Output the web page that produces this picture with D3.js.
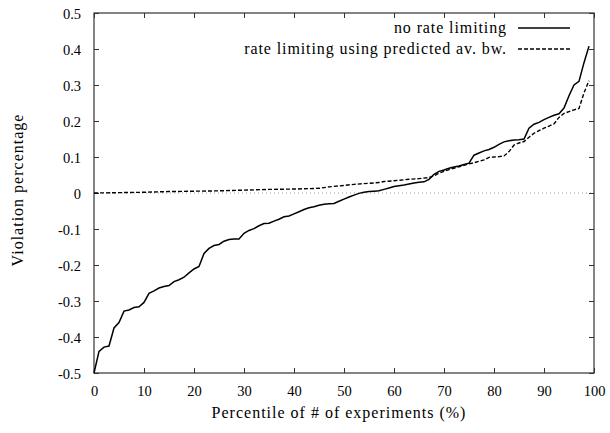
<!DOCTYPE html>
<html><head><meta charset="utf-8">
<script src="https://cdn.jsdelivr.net/npm/d3@7"></script>
<style>body{margin:0;background:#fff}svg{display:block}</style>
</head><body><svg id="c" width="610" height="433"></svg>
<script>
const xTicks = [0,10,20,30,40,50,60,70,80,90,100];
const yTicks = [-0.5,-0.4,-0.3,-0.2,-0.1,0,0.1,0.2,0.3,0.4,0.5];
const yTickLabels = ["-0.5","-0.4","-0.3","-0.2","-0.1","0","0.1","0.2","0.3","0.4","0.5"];
const seriesNames = ["no rate limiting","rate limiting using predicted av. bw."];
const noLimitP = [0,1,2,3,4,5,6,7,8,9,10,11,12,13,14,15,16,17,18,19,20,21,22,23,24,25,26,27,28,29,30,31,32,33,34,35,36,37,38,39,40,41,42,43,44,45,46,47,48,49,50,51,52,53,54,55,56,57,58,59,60,61,62,63,64,65,66,67,68,69,70,71,72,73,74,75,76,77,78,79,80,81,82,83,84,85,86,87,88,89,90,91,92,93,94,95,96,97,98,99];
const noLimitV = [-0.50,-0.44,-0.428,-0.425,-0.375,-0.36,-0.328,-0.325,-0.318,-0.316,-0.304,-0.279,-0.272,-0.264,-0.260,-0.257,-0.246,-0.241,-0.234,-0.222,-0.211,-0.204,-0.168,-0.154,-0.146,-0.143,-0.134,-0.129,-0.128,-0.128,-0.112,-0.104,-0.099,-0.091,-0.085,-0.084,-0.078,-0.073,-0.066,-0.064,-0.058,-0.052,-0.046,-0.041,-0.038,-0.034,-0.031,-0.030,-0.029,-0.023,-0.017,-0.011,-0.006,-0.001,0.002,0.004,0.005,0.006,0.010,0.014,0.018,0.020,0.022,0.025,0.028,0.030,0.031,0.038,0.052,0.060,0.064,0.069,0.072,0.075,0.079,0.083,0.105,0.111,0.117,0.121,0.127,0.135,0.142,0.145,0.147,0.148,0.150,0.180,0.191,0.196,0.204,0.210,0.216,0.220,0.236,0.270,0.300,0.310,0.362,0.408];
const limitP = [0,5,10,15,20,25,30,35,40,45,47,50,52,55,57,58,60,63,65,67,68,69,70,71,73,75,76,77,78,79,80,81,82,83,84,85,86,87,88,89,90,91,92,93,94,95,96,97,98,99];
const limitV = [0.000,0.001,0.002,0.004,0.005,0.006,0.008,0.010,0.011,0.013,0.017,0.021,0.024,0.027,0.029,0.032,0.034,0.038,0.040,0.043,0.048,0.055,0.060,0.065,0.073,0.081,0.084,0.088,0.092,0.099,0.100,0.101,0.103,0.115,0.133,0.139,0.143,0.155,0.166,0.173,0.180,0.186,0.192,0.210,0.221,0.226,0.231,0.235,0.278,0.312];

const FONT = '"Liberation Serif", "Times New Roman", "Liberation Sans", sans-serif';
const svg = d3.select("#c");
const L=94,R=594,T=13,B=373;
const x = d3.scaleLinear().domain([0,100]).range([L,R]);
const y = d3.scaleLinear().domain([-0.5,0.5]).range([B,T]);
const axisCol="#333";

svg.append("line").attr("x1",L).attr("x2",R).attr("y1",y(0)).attr("y2",y(0))
  .attr("stroke","#999").attr("stroke-width",1).attr("stroke-dasharray","1,3");

const tk=5;
const gB = svg.append("g").attr("transform",`translate(0,${B})`).call(d3.axisBottom(x).tickValues(xTicks).tickSize(-tk).tickPadding(13));
const gT = svg.append("g").attr("transform",`translate(0,${T})`).call(d3.axisTop(x).tickValues(xTicks).tickSize(-tk).tickFormat(""));
const gL = svg.append("g").attr("transform",`translate(${L},0)`).call(d3.axisLeft(y).tickValues(yTicks).tickSize(-tk).tickPadding(13).tickFormat((d,i)=>yTickLabels[i]));
const gR = svg.append("g").attr("transform",`translate(${R},0)`).call(d3.axisRight(y).tickValues(yTicks).tickSize(-tk).tickFormat(""));
[gB,gT,gL,gR].forEach(g=>{
  g.attr("font-family",FONT).attr("font-size",14.5);
  g.select(".domain").remove();
  g.selectAll(".tick line").attr("stroke",axisCol);
  g.selectAll("text").attr("fill","#000");
});
gB.selectAll("text").attr("dy","0.71em");
gL.selectAll("text").attr("dy","0.35em");
svg.append("rect").attr("x",L).attr("y",T).attr("width",R-L).attr("height",B-T)
  .attr("fill","none").attr("stroke",axisCol).attr("stroke-width",1.2);

const line = d3.line().x(d=>x(d[0])).y(d=>y(d[1]));
const s1 = noLimitP.map((p,i)=>[p,noLimitV[i]]);
const s2 = limitP.map((p,i)=>[p,limitV[i]]);
svg.append("path").datum(s2).attr("d",line).attr("fill","none").attr("stroke","#000").attr("stroke-width",1.4).attr("stroke-dasharray","4,2");
svg.append("path").datum(s1).attr("d",line).attr("fill","none").attr("stroke","#000").attr("stroke-width",1.5);

const lg = svg.append("g").attr("font-family",FONT).attr("font-size",16).attr("letter-spacing","0.9px");
[[0,"none"],[1,"4,2"]].forEach(([i,da])=>{
  const yy = 28 + i*21;
  lg.append("text").attr("x",507).attr("y",yy).attr("dy","0.32em").attr("text-anchor","end").text(seriesNames[i]);
  lg.append("line").attr("x1",518).attr("x2",570).attr("y1",yy).attr("y2",yy)
    .attr("stroke","#000").attr("stroke-width",1.4).attr("stroke-dasharray",da);
});

const tg = svg.append("g").attr("font-family",FONT).attr("font-size",16).attr("letter-spacing","1px");
tg.append("text").attr("x",(L+R)/2-5).attr("y",418).attr("text-anchor","middle").text("Percentile of # of experiments (%)");
tg.append("text").attr("transform","translate(23,190) rotate(-90)").attr("text-anchor","middle").text("Violation percentage");
</script></body></html>
